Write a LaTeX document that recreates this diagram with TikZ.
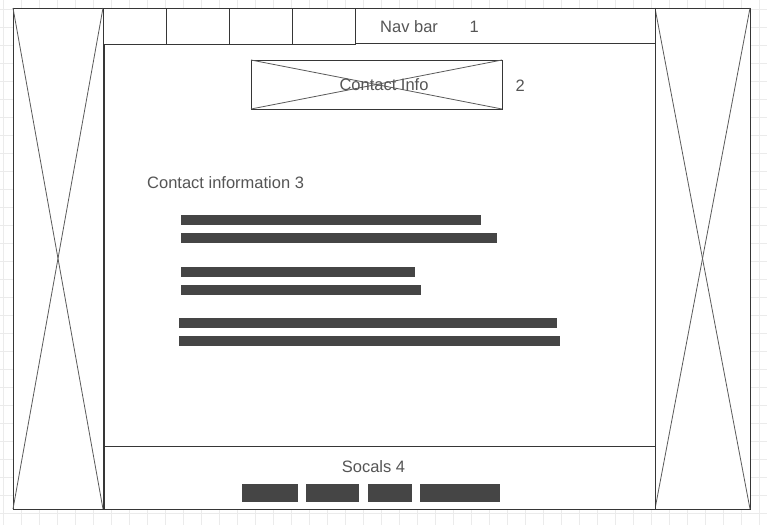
\documentclass[tikz,border=0pt]{standalone}
\usepackage{fontspec}
\setmainfont{Liberation Sans}
\definecolor{gridc}{HTML}{EBEBEB}
\definecolor{linec}{HTML}{363636}
\definecolor{diagc}{HTML}{5A5A5A}
\definecolor{barc}{HTML}{454545}
\definecolor{txtc}{HTML}{555555}
\tikzset{
  frame/.style={draw=linec, line width=1pt, fill=white},
  diag/.style={draw=diagc, line width=0.8pt},
  bar/.style={fill=barc, draw=none},
  lbl/.style={text=txtc, inner sep=0pt, font=\fontsize{16.5}{19}\selectfont},
}
\begin{document}
\begin{tikzpicture}[x=1pt,y=-1pt]
\useasboundingbox (0,0) rectangle (767,525);
\fill[white] (0,0) rectangle (767,525);
% grid
\foreach \x in {3,21,...,759} \draw[gridc, line width=0.8pt] (\x,0) -- (\x,525);
\foreach \y in {9,27,...,513} \draw[gridc, line width=0.8pt] (0,\y) -- (767,\y);
% side panels
\draw[frame] (13,8) rectangle (103,509);
\draw[diag] (13,8) -- (103,509);
\draw[diag] (103,8) -- (13,509);
\draw[frame] (655,8) rectangle (750,509);
\draw[diag] (655,8) -- (750,509);
\draw[diag] (750,8) -- (655,509);
% main area
\draw[frame] (103,8) rectangle (655,509);
\draw[draw=linec, line width=2.2pt] (103.8,8) -- (103.8,509);
% nav tabs
\draw[frame] (103,8) rectangle (166,44);
\draw[frame] (166,8) rectangle (229,44);
\draw[frame] (229,8) rectangle (292,44);
\draw[frame] (292,8) rectangle (355,44);
\draw[draw=linec, line width=1pt] (355,43) -- (655,43);
% contact info box
\draw[frame] (251,60) rectangle (502,109);
\draw[diag] (251,60) -- (502,109);
\draw[diag] (502,60) -- (251,109);
% footer
\draw[draw=linec, line width=1pt] (104,446) -- (655,446);
% text bars
\fill[bar] (181,215) rectangle (481,225);
\fill[bar] (181,233) rectangle (497,243);
\fill[bar] (181,267) rectangle (415,277);
\fill[bar] (181,285) rectangle (421,295);
\fill[bar] (179,318) rectangle (557,328);
\fill[bar] (179,336) rectangle (560,346);
% social buttons
\fill[bar] (242,484) rectangle (298,502);
\fill[bar] (306,484) rectangle (359,502);
\fill[bar] (368,484) rectangle (412,502);
\fill[bar] (420,484) rectangle (500,502);
% labels
\node[lbl, anchor=base west] (navbar) at (380,32) {Nav bar};
\node[lbl, anchor=base west] (n1) at (469.5,32) {1};
\node[lbl, anchor=base] (cinfo) at (384,90) {Contact Info};
\node[lbl, anchor=base west] (n2) at (515.5,91) {2};
\node[lbl, anchor=base west] (cinfo3) at (147,188) {Contact information 3};
\node[lbl, anchor=base] (socals) at (373.5,472) {Socals 4};
\end{tikzpicture}
\end{document}
